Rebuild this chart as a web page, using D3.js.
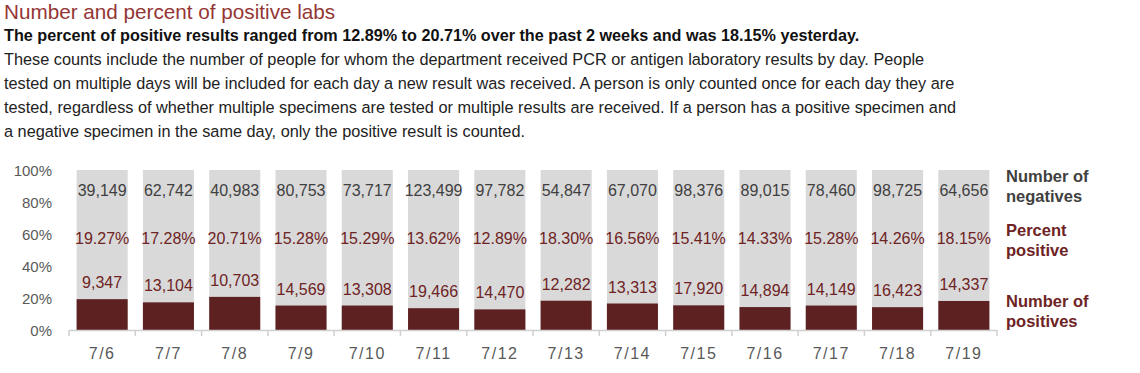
<!DOCTYPE html>
<html>
<head>
<meta charset="utf-8">
<script src="https://cdn.jsdelivr.net/npm/d3@7"></script>
<style>
  body { margin: 0; background: #fff; }
  svg text { font-family: "Liberation Sans", Arial, sans-serif; }
</style>
</head>
<body>
<div id="grafico"></div>
<script>
// Dati
const days = ["7/6", "7/7", "7/8", "7/9", "7/10", "7/11", "7/12", "7/13", "7/14", "7/15", "7/16", "7/17", "7/18", "7/19"];
const positives = [9347, 13104, 10703, 14569, 13308, 19466, 14470, 12282, 13313, 17920, 14894, 14149, 16423, 14337];
const negatives = [39149, 62742, 40983, 80753, 73717, 123499, 97782, 54847, 67070, 98376, 89015, 78460, 98725, 64656];
const percentPositive = [19.27, 17.28, 20.71, 15.28, 15.29, 13.62, 12.89, 18.30, 16.56, 15.41, 14.33, 15.28, 14.26, 18.15];
const yTicks = [0, 20, 40, 60, 80, 100];

const titleText = "Number and percent of positive labs";
const subtitleText = "The percent of positive results ranged from 12.89% to 20.71% over the past 2 weeks and was 18.15% yesterday.";
const bodyLines = [
    "These counts include the number of people for whom the department received PCR or antigen laboratory results by day. People",
    "tested on multiple days will be included for each day a new result was received. A person is only counted once for each day they are",
    "tested, regardless of whether multiple specimens are tested or multiple results are received. If a person has a positive specimen and",
    "a negative specimen in the same day, only the positive result is counted."
];

const width = 1140;
const height = 373;

const colDark = "#5e2122";
const colGray = "#d9d9d9";
const colText = "#404040";
const colRed = "#6e2324";

const svg = d3.select("#grafico")
    .append("svg")
    .attr("width", width)
    .attr("height", height);

// Titolo e testo
svg.append("text")
    .attr("x", 4)
    .attr("y", 19)
    .style("font-size", "20.7px")
    .style("fill", "#943634")
    .text(titleText);

svg.append("text")
    .attr("x", 4)
    .attr("y", 41)
    .style("font-size", "16.2px")
    .style("font-weight", "bold")
    .style("fill", "#111")
    .text(subtitleText);

bodyLines.forEach((line, i) => {
    svg.append("text")
        .attr("x", 4)
        .attr("y", 65 + i * 24)
        .style("font-size", "16.3px")
        .style("fill", "#222")
        .text(line);
});

// Scale
const x = d3.scaleBand()
    .domain(days)
    .range([69, 997])
    .paddingInner(0.23)
    .paddingOuter(0.115);

const y = d3.scaleLinear()
    .domain([0, 100])
    .range([330, 170]);

// Etichette asse y
svg.append("g")
    .selectAll("text")
    .data(yTicks)
    .join("text")
    .attr("x", 52)
    .attr("y", d => y(d) + 6)
    .attr("text-anchor", "end")
    .style("font-size", "15px")
    .style("fill", "#595959")
    .text(d => d + "%");

// Barre grigie (totale = 100%)
svg.append("g")
    .selectAll("rect")
    .data(days)
    .join("rect")
    .attr("x", d => x(d))
    .attr("y", y(100))
    .attr("width", x.bandwidth())
    .attr("height", y(0) - y(100))
    .attr("fill", colGray);

// Barre positive
svg.append("g")
    .selectAll("rect")
    .data(days)
    .join("rect")
    .attr("x", d => x(d))
    .attr("y", (d, i) => y(percentPositive[i]))
    .attr("width", x.bandwidth())
    .attr("height", (d, i) => y(0) - y(percentPositive[i]))
    .attr("fill", colDark);

// Asse x
const axisG = svg.append("g");
axisG.append("line")
    .attr("x1", x.range()[0])
    .attr("x2", x.range()[1])
    .attr("y1", y(0) + 0.5)
    .attr("y2", y(0) + 0.5)
    .attr("stroke", "#d0d0d0")
    .attr("stroke-width", 1.5);

axisG.selectAll(".tick")
    .data(d3.range(days.length + 1))
    .join("line")
    .attr("class", "tick")
    .attr("x1", i => x.range()[0] + i * x.step())
    .attr("x2", i => x.range()[0] + i * x.step())
    .attr("y1", y(0))
    .attr("y2", y(0) + 6)
    .attr("stroke", "#d0d0d0")
    .attr("stroke-width", 1.5);

axisG.selectAll(".xlab")
    .data(days)
    .join("text")
    .attr("class", "xlab")
    .attr("x", d => x(d) + x.bandwidth() / 2)
    .attr("y", 359)
    .attr("text-anchor", "middle")
    .style("font-size", "16px")
    .style("letter-spacing", "1.5px")
    .style("fill", "#595959")
    .text(d => d);

const fmt = d3.format(",");
const cx = d => x(d) + x.bandwidth() / 2;

// Numero di negativi
svg.append("g")
    .selectAll("text")
    .data(days)
    .join("text")
    .attr("x", cx)
    .attr("y", y(84))
    .attr("text-anchor", "middle")
    .style("font-size", "16px")
    .style("fill", colText)
    .text((d, i) => fmt(negatives[i]));

// Percentuale positivi
svg.append("g")
    .selectAll("text")
    .data(days)
    .join("text")
    .attr("x", cx)
    .attr("y", y(54))
    .attr("text-anchor", "middle")
    .style("font-size", "16px")
    .style("fill", colRed)
    .text((d, i) => percentPositive[i].toFixed(2) + "%");

// Numero di positivi sopra la barra
svg.append("g")
    .selectAll("text")
    .data(days)
    .join("text")
    .attr("x", cx)
    .attr("y", (d, i) => y(percentPositive[i]) - 11)
    .attr("text-anchor", "middle")
    .style("font-size", "16px")
    .style("fill", colRed)
    .text((d, i) => fmt(positives[i]));

// Legenda a destra
const legend = [
    { lines: ["Number of", "negatives"], y: 182, color: colText },
    { lines: ["Percent", "positive"], y: 236, color: colRed },
    { lines: ["Number of", "positives"], y: 307, color: colRed }
];

legend.forEach(l => {
    l.lines.forEach((t, j) => {
        svg.append("text")
            .attr("x", 1006)
            .attr("y", l.y + j * 20)
            .style("font-size", "16.5px")
            .style("font-weight", "bold")
            .style("fill", l.color)
            .text(t);
    });
});
</script>
</body>
</html>
